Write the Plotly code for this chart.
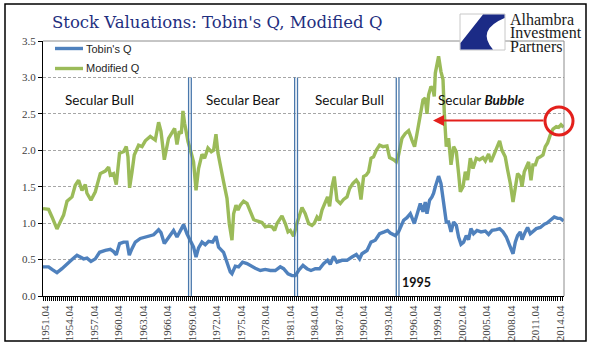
import plotly.graph_objects as go

# ---------------- data ----------------
modq_years = [1951.47, 1952.15, 1952.57, 1953.18, 1953.59, 1953.99, 1954.41, 1955.02, 1955.42, 1955.83,
              1956.24, 1956.65, 1956.85, 1957.34, 1957.87, 1958.48, 1959.09, 1959.50, 1959.71, 1960.11,
              1960.44, 1960.84, 1961.33, 1961.66, 1961.87, 1962.07, 1962.36, 1962.64, 1963.17, 1963.59,
              1963.99, 1964.60, 1965.21, 1965.62, 1965.91, 1966.32, 1966.84, 1967.33, 1967.58, 1967.87,
              1968.15, 1968.40, 1968.60, 1968.80, 1969.22, 1969.62, 1969.90, 1970.20, 1970.51, 1970.93,
              1971.25, 1971.66, 1972.07, 1972.35, 1972.64, 1972.89, 1973.17, 1973.57, 1973.99, 1974.27,
              1974.60, 1974.80, 1975.09, 1975.34, 1975.62, 1976.02, 1976.44, 1976.84, 1977.25, 1977.66,
              1978.27, 1978.68, 1979.08, 1979.50, 1979.82, 1980.11, 1980.72, 1981.13, 1981.46, 1981.74,
              1982.14, 1982.56, 1983.17, 1983.57, 1983.98, 1984.39, 1984.68, 1985.01, 1985.32, 1985.62,
              1986.02, 1986.30, 1986.55, 1986.84, 1987.12, 1987.45, 1987.86, 1988.26, 1988.68, 1989.00,
              1989.41, 1989.82, 1990.10, 1990.39, 1990.71, 1991.04, 1991.32, 1991.62, 1991.93, 1992.26,
              1992.67, 1993.08, 1993.57, 1993.89, 1994.38, 1994.71, 1994.99, 1995.41, 1995.81, 1996.22,
              1996.63, 1996.95, 1997.25, 1997.56, 1997.98, 1998.26, 1998.47, 1998.67, 1998.96, 1999.20,
              1999.36, 1999.49, 1999.89, 2000.18, 2000.43, 2000.59, 2000.83, 2001.11, 2001.41, 2001.73,
              2002.06, 2002.34, 2002.55, 2002.88, 2003.16, 2003.44, 2003.77, 2004.10, 2004.50, 2004.91,
              2005.32, 2005.61, 2006.01, 2006.30, 2006.71, 2007.04, 2007.36, 2007.65, 2008.05, 2008.34,
              2008.67, 2009.00, 2009.28, 2009.56, 2009.89, 2010.10, 2010.38, 2010.71, 2010.91, 2011.20,
              2011.44, 2011.73, 2012.01, 2012.34, 2012.67, 2012.95, 2013.23, 2013.56, 2013.89, 2014.30,
              2014.58, 2014.87, 2015.19]
modified_q = [1.20, 1.19, 1.085, 0.92, 1.02, 1.11, 1.30, 1.36, 1.52, 1.59,
              1.45, 1.53, 1.41, 1.315, 1.43, 1.68, 1.715, 1.77, 1.66, 1.68,
              1.53, 1.96, 1.98, 2.05, 1.91, 1.485, 1.70, 1.935, 2.07, 2.05,
              2.13, 2.19, 2.14, 2.385, 2.26, 1.87, 2.165, 2.26, 2.30, 2.08,
              2.26, 2.23, 2.54, 2.37, 2.12, 1.96, 1.84, 1.45, 1.75, 1.945,
              1.89, 2.03, 1.98, 2.00, 2.22, 1.96, 1.82, 1.57, 1.34, 0.995,
              0.765, 1.13, 1.245, 1.18, 1.245, 1.30, 1.27, 1.155, 1.05, 1.03,
              1.01, 0.95, 0.96, 0.95, 0.90, 0.995, 1.10, 0.995, 0.88, 0.90,
              0.82, 1.00, 1.215, 1.13, 0.995, 0.97, 1.00, 1.085, 1.04, 1.18,
              1.29, 1.36, 1.23, 1.50, 1.64, 1.315, 1.27, 1.325, 1.36, 1.475,
              1.545, 1.59, 1.545, 1.325, 1.64, 1.66, 1.705, 1.89, 1.91, 2.00,
              2.07, 2.05, 2.06, 1.90, 1.87, 1.84, 1.935, 2.165, 2.23, 2.27,
              2.14, 2.05, 2.23, 2.42, 2.69, 2.715, 2.50, 2.76, 2.875, 2.84,
              2.74, 3.06, 3.29, 3.08, 2.97, 2.51, 2.05, 2.165, 1.80, 2.05,
              1.98, 1.68, 1.43, 1.50, 1.705, 1.59, 1.89, 1.75, 1.89, 1.87,
              1.90, 1.855, 1.95, 1.84, 1.96, 2.05, 2.13, 2.00, 1.91, 1.73,
              1.545, 1.29, 1.50, 1.68, 1.64, 1.50, 1.705, 1.775, 1.84, 1.59,
              1.80, 1.80, 1.89, 1.91, 1.935, 2.05, 2.10, 2.21, 2.29, 2.325,
              2.315, 2.35, 2.315]

tobin_years = [1951.47, 1952.15, 1952.57, 1953.18, 1953.79, 1954.41, 1955.02, 1955.63, 1956.03, 1956.44,
               1956.85, 1957.34, 1957.87, 1958.40, 1959.09, 1959.71, 1960.11, 1960.44, 1960.84, 1961.33,
               1961.75, 1962.03, 1962.36, 1962.77, 1963.38, 1964.20, 1965.01, 1965.62, 1965.91, 1966.32,
               1966.84, 1967.45, 1967.87, 1968.27, 1968.68, 1969.09, 1969.62, 1969.90, 1970.20, 1970.51,
               1970.93, 1971.33, 1971.74, 1972.23, 1972.64, 1972.96, 1973.57, 1973.99, 1974.39, 1974.60,
               1975.01, 1975.41, 1975.90, 1976.44, 1976.96, 1977.45, 1978.07, 1978.68, 1979.29, 1979.90,
               1980.51, 1980.92, 1981.46, 1981.95, 1982.35, 1982.75, 1983.29, 1983.78, 1984.27, 1984.80,
               1985.32, 1985.81, 1986.30, 1986.63, 1987.04, 1987.45, 1988.07, 1988.68, 1989.29, 1989.82,
               1990.22, 1990.51, 1991.13, 1991.62, 1992.14, 1992.67, 1993.24, 1993.65, 1993.98, 1994.59,
               1994.99, 1995.61, 1996.02, 1996.43, 1996.92, 1997.44, 1997.65, 1997.98, 1998.26, 1998.47,
               1998.79, 1999.08, 1999.28, 1999.49, 1999.89, 2000.18, 2000.50, 2000.83, 2001.11, 2001.41,
               2001.73, 2002.06, 2002.34, 2002.63, 2002.95, 2003.28, 2003.56, 2003.85, 2004.17, 2004.59,
               2005.08, 2005.61, 2006.01, 2006.43, 2006.95, 2007.36, 2007.77, 2008.18, 2008.58, 2009.00,
               2009.28, 2009.56, 2009.89, 2010.10, 2010.50, 2010.78, 2011.11, 2011.52, 2011.85, 2012.34,
               2012.83, 2013.16, 2013.65, 2014.05, 2014.46, 2014.79, 2015.19]
tobin_q = [0.40, 0.40, 0.365, 0.32, 0.375, 0.445, 0.50, 0.56, 0.535, 0.51,
           0.52, 0.475, 0.51, 0.60, 0.625, 0.64, 0.61, 0.565, 0.72, 0.74,
           0.74, 0.56, 0.65, 0.74, 0.79, 0.81, 0.84, 0.91, 0.87, 0.72,
           0.81, 0.90, 0.81, 0.90, 0.98, 0.855, 0.74, 0.67, 0.535, 0.66,
           0.74, 0.705, 0.75, 0.74, 0.82, 0.67, 0.60, 0.465, 0.33, 0.305,
           0.41, 0.40, 0.465, 0.445, 0.41, 0.38, 0.35, 0.365, 0.35, 0.35,
           0.40, 0.375, 0.305, 0.28, 0.28, 0.35, 0.42, 0.375, 0.35, 0.375,
           0.375, 0.445, 0.49, 0.435, 0.545, 0.465, 0.49, 0.49, 0.535, 0.57,
           0.51, 0.58, 0.625, 0.74, 0.765, 0.855, 0.88, 0.90, 0.865, 0.83,
           0.88, 1.04, 1.075, 1.13, 0.995, 1.18, 1.27, 1.155, 1.29, 1.13,
           1.315, 1.36, 1.41, 1.50, 1.645, 1.545, 1.27, 1.015, 1.015, 0.88,
           1.015, 0.97, 0.81, 0.71, 0.74, 0.83, 0.775, 0.925, 0.855, 0.90,
           0.88, 0.89, 0.845, 0.90, 0.91, 0.925, 0.88, 0.81, 0.695, 0.58,
           0.74, 0.83, 0.88, 0.775, 0.88, 0.94, 0.855, 0.90, 0.925, 0.94,
           0.985, 1.00, 1.04, 1.085, 1.065, 1.065, 1.03]

tick_years = [1951.75 + 3 * k for k in range(22)]
tick_labels = [f"{1951 + 3 * k}.04" for k in range(22)]
regime_lines = [1969.29, 1969.62, 1982.27, 1982.62, 1994.71, 1995.04]
regime_labels = ["Secular Bull", "Secular Bear", "Secular Bull"]
regime_label_years = [1958.4, 1976.0, 1989.0]

# ---------------- layout helpers ----------------
W, H = 595, 361
L, R, T, B = 43, 31, 41, 65
PW, PH = W - L - R, H - T - B


def fx(p):
    return (p - L) / PW


def fy(p):
    return (H - B - p) / PH


BLUE = "#4F81BD"
GREEN = "#9BBB59"
RED = "#E3201C"
VLINE = "#4A78AC"

fig = go.Figure()
fig.add_trace(go.Scatter(x=tobin_years, y=tobin_q, mode="lines", name="Tobin's Q",
                         line=dict(color=BLUE, width=3.4), showlegend=False))
fig.add_trace(go.Scatter(x=modq_years, y=modified_q, mode="lines", name="Modified Q",
                         line=dict(color=GREEN, width=3.4), showlegend=False))

shapes = []
# regime divider lines
for yr in regime_lines:
    shapes.append(dict(type="line", xref="x", yref="y", x0=yr, x1=yr, y0=0, y1=3.0,
                       line=dict(color=VLINE, width=1.3), layer="above"))
# plot area top / right border
shapes.append(dict(type="line", xref="paper", yref="paper", x0=0, x1=1, y0=1, y1=1,
                   line=dict(color="#8C8C8C", width=1)))
shapes.append(dict(type="line", xref="paper", yref="paper", x0=1, x1=1, y0=0, y1=1,
                   line=dict(color="#8C8C8C", width=1)))
# outer chart border
shapes.append(dict(type="rect", xref="paper", yref="paper", x0=fx(5), x1=fx(586), y0=fy(341), y1=fy(4),
                   line=dict(color="#000000", width=1.5)))
# legend samples
shapes.append(dict(type="line", xref="paper", yref="paper", x0=fx(55), x1=fx(83), y0=fy(48.5), y1=fy(48.5),
                   line=dict(color=BLUE, width=3.4)))
shapes.append(dict(type="line", xref="paper", yref="paper", x0=fx(55), x1=fx(83), y0=fy(68.5), y1=fy(68.5),
                   line=dict(color=GREEN, width=3.4)))
# red circle
shapes.append(dict(type="circle", xref="paper", yref="paper", x0=fx(545), x1=fx(573), y0=fy(135), y1=fy(107),
                   line=dict(color=RED, width=3)))
# logo box and swoosh
shapes.append(dict(type="rect", xref="paper", yref="paper", x0=fx(460), x1=fx(505), y0=fy(50), y1=fy(14),
                   line=dict(color="#C8C8C8", width=1), fillcolor="white"))


def P(x, y):
    return f"{fx(x):.5f},{fy(y):.5f}"


swoosh = (f"M {P(483,14.5)} L {P(504.5,14.5)} L {P(504.5,18)} Q {P(476,30)} {P(493,49.5)} "
          f"L {P(460.5,49.5)} L {P(460.5,43)} Z")
shapes.append(dict(type="path", xref="paper", yref="paper", path=swoosh,
                   fillcolor="#1B2B86", line=dict(width=0)))

annotations = []
annotations.append(dict(xref="paper", yref="paper", x=fx(50), y=fy(22), xanchor="left", yanchor="middle",
                        text="Stock Valuations: Tobin's Q, Modified Q", showarrow=False,
                        font=dict(family="DejaVu Serif", size=16.5, color="#1F2F7F")))
for i, line in enumerate(["Alhambra", "Investment", "Partners"]):
    annotations.append(dict(xref="paper", yref="paper", x=fx(508), y=fy(19 + 13.5 * i), xanchor="left",
                            yanchor="middle", text=line, showarrow=False,
                            font=dict(family="Liberation Serif", size=16, color="#1A1A1A")))
annotations.append(dict(xref="paper", yref="paper", x=fx(84), y=fy(48.5), xanchor="left", yanchor="middle",
                        text="Tobin's Q", showarrow=False,
                        font=dict(family="Liberation Sans", size=11, color="#262626")))
annotations.append(dict(xref="paper", yref="paper", x=fx(84), y=fy(68.5), xanchor="left", yanchor="middle",
                        text="Modified Q", showarrow=False,
                        font=dict(family="Liberation Sans", size=11, color="#262626")))
for lab, yr in zip(regime_labels, regime_label_years):
    annotations.append(dict(xref="x", yref="paper", x=yr, y=fy(100), xanchor="center", yanchor="middle",
                            text=lab, showarrow=False, font=dict(family="Lato", size=13.5, color="#111111")))
annotations.append(dict(xref="x", yref="paper", x=2005.1, y=fy(100), xanchor="center", yanchor="middle",
                        text="Secular <b><i>Bubble</i></b>", showarrow=False,
                        font=dict(family="Lato", size=13.5, color="#111111")))
annotations.append(dict(xref="x", yref="paper", x=1995.2, y=fy(282), xanchor="left", yanchor="middle",
                        text="<b>1995</b>", showarrow=False, font=dict(family="Lato", size=12.5, color="#111111")))
# red arrow
annotations.append(dict(xref="paper", yref="paper", x=fx(433), y=fy(120.5), ax=112, ay=0,
                        axref="pixel", ayref="pixel", text="", showarrow=True,
                        arrowhead=2, arrowsize=1.1, arrowwidth=2, arrowcolor=RED))

fig.update_layout(
    width=W, height=H, margin=dict(l=L, r=R, t=T, b=B),
    paper_bgcolor="white", plot_bgcolor="white",
    shapes=shapes, annotations=annotations, showlegend=False,
    xaxis=dict(range=[1951.47, 2015.24], tickmode="array", tickvals=tick_years, ticktext=tick_labels,
               tickangle=-90, ticks="outside", ticklen=4, tickcolor="#000", showgrid=False,
               showline=True, linecolor="#000", linewidth=1.2, zeroline=False,
               tickfont=dict(family="Liberation Serif", size=11, color="#404040"),
               minor=dict(tickmode="linear", tick0=1951.5, dtick=0.25, ticks="outside", ticklen=4,
                          tickcolor="#000", showgrid=False)),
    yaxis=dict(range=[0, 3.5], tickmode="linear", tick0=0, dtick=0.5, tickformat=".1f",
               ticks="outside", ticklen=4, tickcolor="#000", showline=True, linecolor="#000", linewidth=1.2,
               showgrid=True, gridcolor="#A6A6A6", gridwidth=1, griddash="3px,2px", zeroline=False,
               tickfont=dict(family="Liberation Serif", size=11, color="#404040")),
)

fig.write_html("out.html", config={"displayModeBar": False},
               post_script="document.body.style.margin='0';")
